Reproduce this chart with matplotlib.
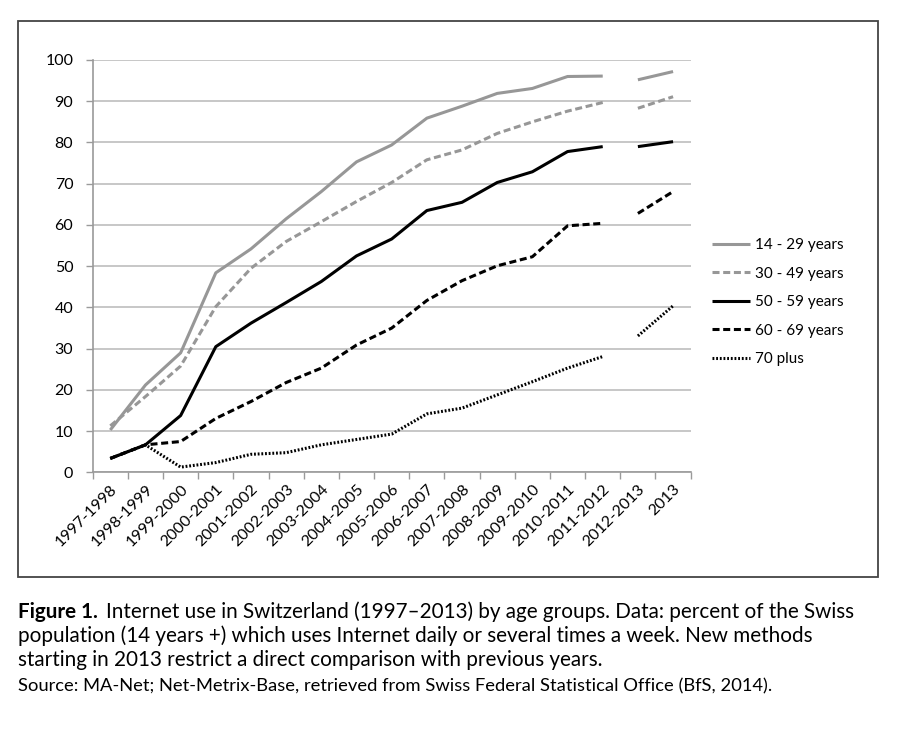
import numpy as np
import matplotlib.pyplot as plt
from matplotlib.patches import Rectangle

plt.rcParams['font.family'] = ['Lato', 'DejaVu Sans']

# categories on the x axis
periods = [
    "1997-1998", "1998-1999", "1999-2000", "2000-2001", "2001-2002",
    "2002-2003", "2003-2004", "2004-2005", "2005-2006", "2006-2007",
    "2007-2008", "2008-2009", "2009-2010", "2010-2011", "2011-2012",
    "2012-2013", "2013"
]

# percent of population using the internet, per age group
age_14_29 = [10.3, 21.2, 29.0, 48.4, 54.2, 61.5, 68.1, 75.3, 79.4, 85.9,
             88.8, 91.9, 93.1, 96.0, 96.1, 95.2, 97.2]
age_30_49 = [11.3, 18.4, 25.8, 40.2, 49.5, 56.0, 60.8, 65.7, 70.3, 75.8,
             78.2, 82.2, 85.0, 87.6, 89.7, 88.3, 91.1]
age_50_59 = [3.4, 6.7, 13.8, 30.5, 36.2, 41.2, 46.3, 52.5, 56.6, 63.5,
             65.5, 70.3, 72.9, 77.8, 79.0, 79.0, 80.2]
age_60_69 = [3.4, 6.7, 7.5, 13.1, 17.2, 21.8, 25.3, 30.9, 35.0, 41.7,
             46.5, 50.1, 52.3, 59.8, 60.4, 62.8, 68.1]
age_70_plus = [3.4, 6.7, 1.3, 2.4, 4.4, 4.8, 6.7, 8.0, 9.3, 14.2,
               15.6, 18.8, 22.0, 25.3, 28.1, 33.1, 40.4]

series_names = ["14 - 29 years", "30 - 49 years", "50 - 59 years",
                "60 - 69 years", "70 plus"]

# new survey method from 2012-2013 on -> line is broken there
break_at = 15

fig = plt.figure(figsize=(9, 7.29), dpi=100)
ax = fig.add_axes([0.103, 0.3519, 0.6644, 0.5658])

x = np.arange(len(periods))
gray = "#979797"
styles = [
    dict(color=gray, linestyle="-"),
    dict(color=gray, linestyle=(0, (2.3, 1.2))),
    dict(color="black", linestyle="-"),
    dict(color="black", linestyle=(0, (2.3, 1.2))),
    dict(color="black", linestyle=(0, (0.6, 0.6))),
]
all_series = [age_14_29, age_30_49, age_50_59, age_60_69, age_70_plus]

for vals, name, st in zip(all_series, series_names, styles):
    vals = np.array(vals)
    ax.plot(x[:break_at], vals[:break_at], lw=2.2, label=name,
            dash_capstyle="butt", solid_capstyle="butt", **st)
    ax.plot(x[break_at:], vals[break_at:], lw=2.2,
            dash_capstyle="butt", solid_capstyle="butt", **st)

ax.set_xlim(-0.5, len(periods) - 0.5)
ax.set_ylim(0, 100)
ax.set_yticks(range(0, 101, 10))
ax.set_xticks(x)
ax.set_xticklabels(periods, rotation=45, ha="right", va="top",
                   rotation_mode="anchor", fontsize=11.5)
ax.set_xticks(np.arange(-0.5, len(periods), 1), minor=True)
ax.tick_params(axis="x", which="major", length=0, pad=7)
ax.tick_params(axis="x", which="minor", length=5, color="#9a9a9a", width=1)
ax.tick_params(axis="y", length=5, color="#9a9a9a", width=1, pad=9,
               labelsize=11.5)

ax.grid(axis="y", color="#bdbdbd", lw=1.2)
ax.set_axisbelow(True)
for side in ["top", "right"]:
    ax.spines[side].set_visible(False)
ax.spines["left"].set_color("#9a9a9a")
ax.spines["bottom"].set_color("#9a9a9a")
ax.spines["left"].set_linewidth(1.2)
ax.spines["bottom"].set_linewidth(1.2)

leg = ax.legend(loc="upper left", bbox_to_anchor=(0.776, 0.692),
                bbox_transform=fig.transFigure, frameon=False,
                fontsize=11, handlelength=2.5, handletextpad=0.3,
                labelspacing=0.95)

# box around the chart
fig.patches.append(Rectangle((18 / 900, 1 - 577 / 729), 860 / 900, 556 / 729,
                             transform=fig.transFigure, fill=False,
                             edgecolor="#444444", lw=1.3))

# caption
cap_size = 14.9
fig.canvas.draw()
bold = fig.text(18 / 900, 1 - 618 / 729, "Figure 1.", fontsize=cap_size,
                fontweight="bold", va="baseline")
fig.canvas.draw()
bb = bold.get_window_extent()
fig.text((bb.x1 + 8) / 900, 1 - 618 / 729,
         "Internet use in Switzerland (1997\u20132013) by age groups. "
         "Data: percent of the Swiss",
         fontsize=cap_size, va="baseline")
fig.text(18 / 900, 1 - 642 / 729,
         "population (14 years +) which uses Internet daily or several "
         "times a week. New methods",
         fontsize=cap_size, va="baseline")
fig.text(18 / 900, 1 - 666 / 729,
         "starting in 2013 restrict a direct comparison with previous years.",
         fontsize=cap_size, va="baseline")
fig.text(18 / 900, 1 - 691 / 729,
         "Source: MA-Net; Net-Metrix-Base, retrieved from Swiss Federal "
         "Statistical Office (BfS, 2014).",
         fontsize=13.2, va="baseline")

plt.savefig("out.png", dpi=100)
plt.close()
